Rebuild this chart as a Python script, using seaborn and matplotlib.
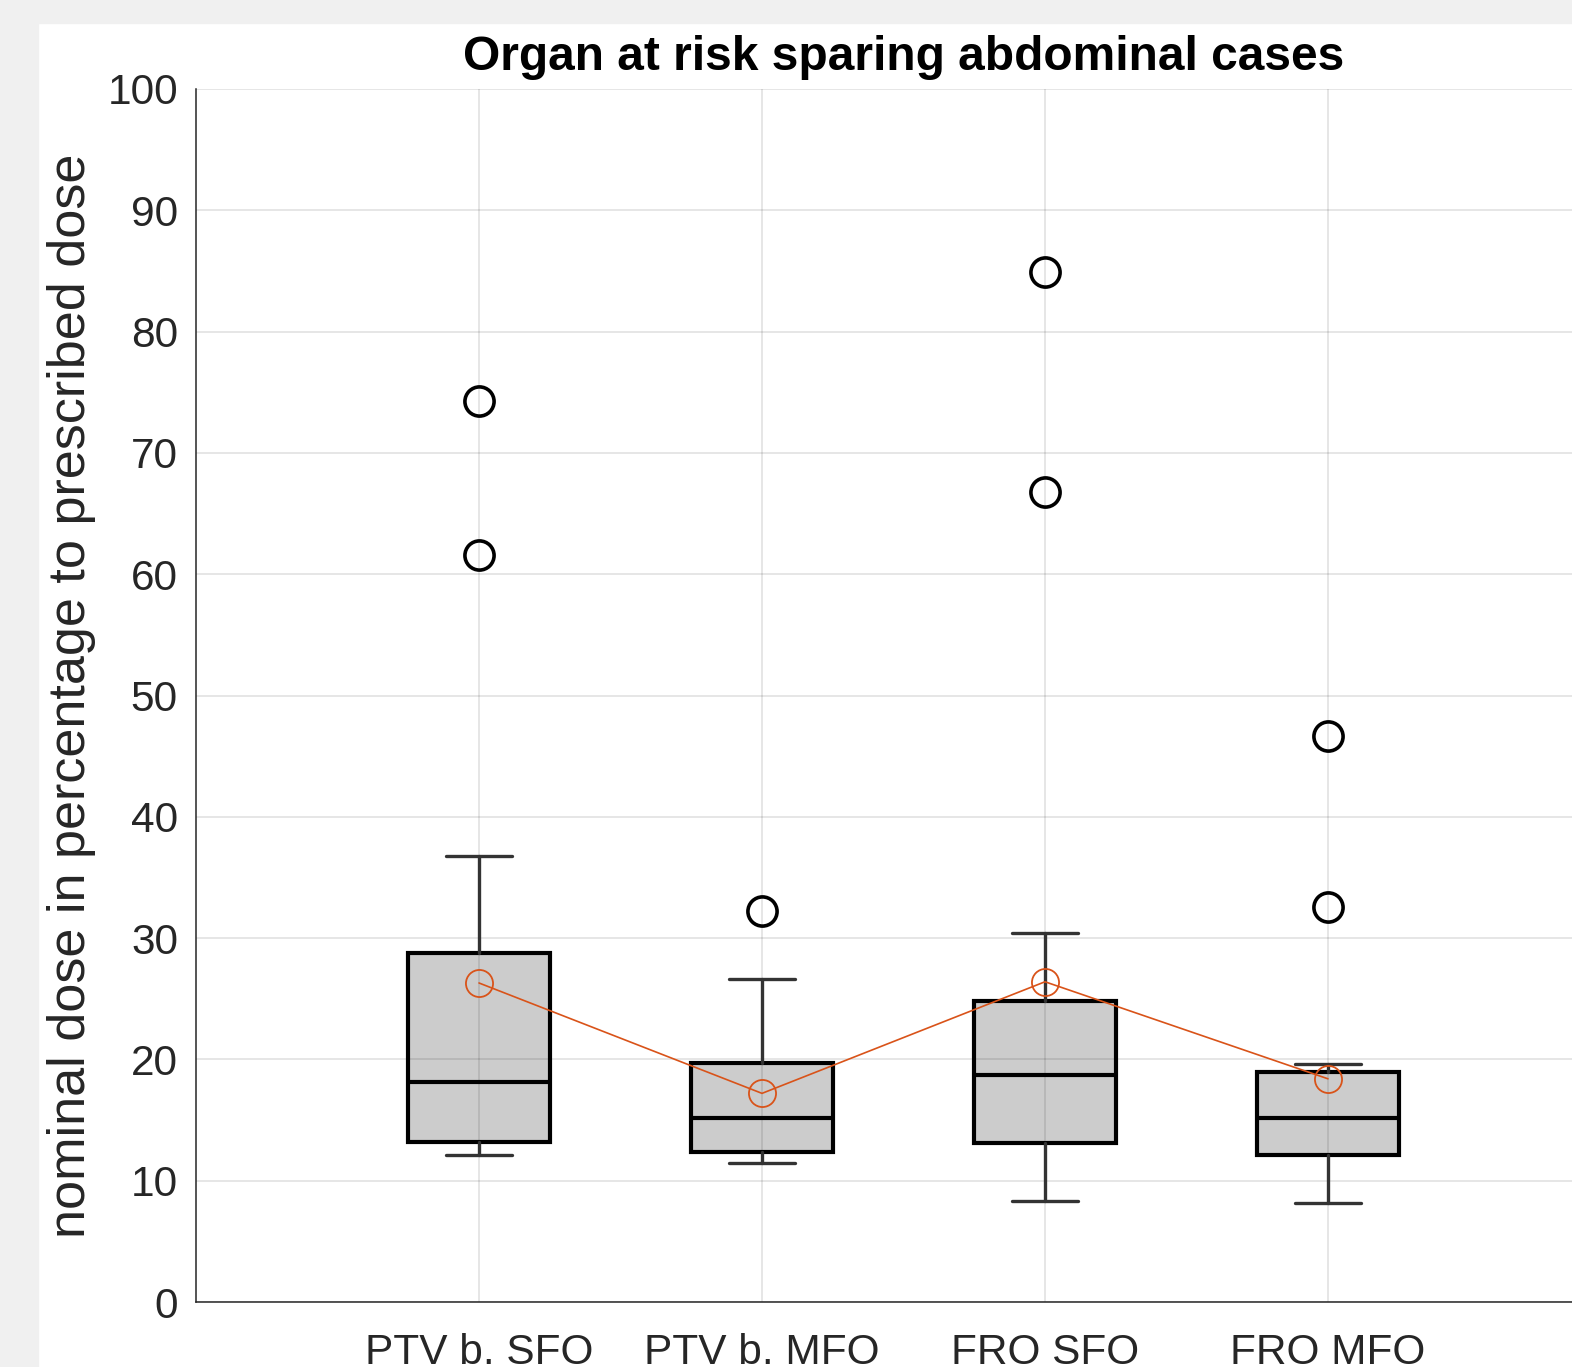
import numpy as np
import seaborn as sns
import matplotlib.pyplot as plt
from matplotlib.patches import Rectangle

# values (percent of prescribed dose)
labels = ["PTV b. SFO", "PTV b. MFO", "FRO SFO", "FRO MFO"]
whislo = [12.1, 11.5, 8.3, 8.2]
q1 = [13.2, 12.4, 13.1, 12.1]
med = [18.1, 15.2, 18.7, 15.2]
q3 = [28.8, 19.7, 24.8, 19.0]
whishi = [36.8, 26.6, 30.4, 19.6]
fliers = [[74.3, 61.6], [32.2], [84.9, 66.8], [46.7, 32.6]]
means = [26.3, 17.2, 26.4, 18.4]

sns.set_theme(style="whitegrid")
plt.rcParams["font.family"] = ["Liberation Sans", "DejaVu Sans"]

W, H = 1572, 1367
fig = plt.figure(figsize=(W / 100, H / 100), dpi=100)
fig.patch.set_facecolor("white")
# grey window frame strips (screenshot border)
fig.add_artist(Rectangle((0, 1 - 23 / H), 1, 23 / H, transform=fig.transFigure,
                         color="#f0f0f0", zorder=-1))
fig.add_artist(Rectangle((0, 0), 38 / W, 1, transform=fig.transFigure,
                         color="#f0f0f0", zorder=-1))

ax = fig.add_axes([196 / W, 65 / H, 1415 / W, 1213 / H])
ax.set_facecolor("white")

pos = np.arange(1, len(labels) + 1)
stats = []
for i, lab in enumerate(labels):
    stats.append(dict(label=lab, whislo=whislo[i], q1=q1[i], med=med[i],
                      q3=q3[i], whishi=whishi[i], fliers=fliers[i]))

bp = ax.bxp(stats, positions=pos, widths=0.5, capwidths=0.233, patch_artist=True,
            boxprops=dict(facecolor="#cccccc", edgecolor="black", linewidth=3.0),
            medianprops=dict(color="black", linewidth=3.0),
            whiskerprops=dict(color="#333333", linewidth=2.4),
            capprops=dict(color="#333333", linewidth=2.4),
            flierprops=dict(marker="o", markerfacecolor="none", markeredgecolor="black",
                            markersize=21, markeredgewidth=2.6))
for b in bp["boxes"]:
    b.set_zorder(1)

# mean line
sns.lineplot(x=pos, y=means, ax=ax, color="#D95319", linewidth=1.2, marker="o",
             markersize=19.5, markerfacecolor="none", markeredgecolor="#D95319",
             markeredgewidth=1.3, zorder=3)

ax.set_xlim(0, 5)
ax.set_ylim(0, 100)
ax.set_xticks(pos)
ax.set_xticklabels(labels)
ax.set_yticks(np.arange(0, 101, 10))
ax.set_axisbelow("line")
ax.grid(True, color="black", alpha=0.13, linewidth=1.1)

for s in ["top", "right"]:
    ax.spines[s].set_visible(False)
for s in ["left", "bottom"]:
    ax.spines[s].set_color("#262626")
    ax.spines[s].set_linewidth(1.1)

ax.tick_params(axis="both", direction="in", length=10, width=1.1, color="#262626",
               labelcolor="#262626", labelsize=30.5)
ax.tick_params(axis="y", pad=13)
ax.tick_params(axis="x", pad=22)

ax.set_title("Organ at risk sparing abdominal cases", fontsize=34.5, fontweight="bold",
             color="black", pad=14)
ax.set_ylabel("nominal dose in percentage to prescribed dose", fontsize=37.5, color="#262626")
ax.yaxis.set_label_coords(-0.0706, 0.5)

fig.savefig("out.png", dpi=100)
